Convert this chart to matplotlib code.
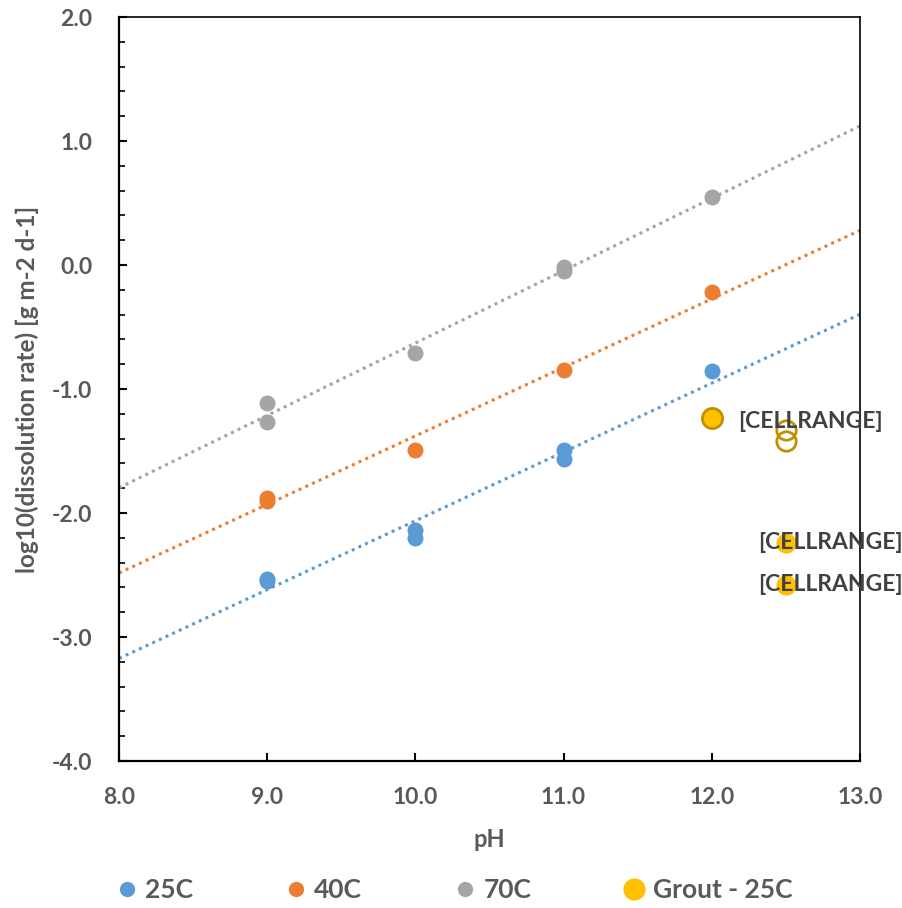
import numpy as np
import matplotlib

matplotlib.use("Agg")
import matplotlib.pyplot as plt
from matplotlib.lines import Line2D
from matplotlib.ticker import MultipleLocator, FormatStrFormatter

plt.rcParams["font.family"] = ["Lato", "DejaVu Sans"]
plt.rcParams["axes.unicode_minus"] = False

# measured dissolution rates, log10 [g m-2 d-1]
ph_25 = [9, 9, 10, 10, 11, 11, 12]
rate_25 = [-2.53, -2.55, -2.14, -2.20, -1.49, -1.565, -0.855]
ph_40 = [9, 9, 10, 11, 12]
rate_40 = [-1.88, -1.90, -1.49, -0.85, -0.22]
ph_70 = [9, 9, 10, 11, 11, 12]
rate_70 = [-1.11, -1.27, -0.71, -0.02, -0.05, 0.55]

# grout samples (25C)
grout_ph = [12.0, 12.5, 12.5]
grout_rate = [-1.23, -2.24, -2.58]
grout_open_ph = [12.5, 12.5]
grout_open_rate = [-1.33, -1.42]
grout_labels = ["[CELLRANGE]", "[CELLRANGE]", "[CELLRANGE]"]

series_names = ["25C", "40C", "70C", "Grout - 25C"]
colors = ["#5B9BD5", "#ED7D31", "#A5A5A5", "#FFC000"]
GREY_TXT = "#595959"

fig = plt.figure(figsize=(9.02, 9.08), dpi=100)
ax = fig.add_axes([119 / 902, 147 / 908, 741 / 902, 744 / 908])

x_fit = np.array([8.0, 13.0])
for xs, ys, c in [(ph_25, rate_25, colors[0]), (ph_40, rate_40, colors[1]),
                  (ph_70, rate_70, colors[2])]:
    slope, icpt = np.polyfit(xs, ys, 1)
    ax.plot(x_fit, slope * x_fit + icpt, color=c, lw=2.2,
            linestyle=(0, (1, 1.4)), zorder=2)
    ax.plot(xs, ys, "o", color=c, ms=11.5, mec="none", zorder=3)

# grout points
ax.plot(grout_ph[:1], grout_rate[:1], "o", color=colors[3], ms=14.5,
        mec="#BF9000", mew=2, zorder=4)
ax.plot(grout_ph[1:], grout_rate[1:], "o", color=colors[3], ms=14.5,
        mec="none", zorder=4)
ax.plot(grout_open_ph, grout_open_rate, "o", mfc="none", ms=14,
        mec="#BF9000", mew=2, zorder=4)

offsets = [(19, -3), (-20, 0), (-20, 0)]
for x, y, lab, off in zip(grout_ph, grout_rate, grout_labels, offsets):
    ax.annotate(lab, (x, y), xytext=off, textcoords="offset points",
                ha="left", va="center", fontsize=16.5, fontweight="bold",
                color="#404040", zorder=5)

ax.set_xlim(8, 13)
ax.set_ylim(-4, 2)
ax.xaxis.set_major_locator(MultipleLocator(1))
ax.yaxis.set_major_locator(MultipleLocator(1))
ax.yaxis.set_minor_locator(MultipleLocator(0.2))
ax.xaxis.set_major_formatter(FormatStrFormatter("%.1f"))
ax.yaxis.set_major_formatter(FormatStrFormatter("%.1f"))
ax.tick_params(axis="both", which="major", direction="in", length=6,
               width=1.5, pad=19, labelsize=16.5, labelcolor=GREY_TXT)
ax.tick_params(axis="y", which="minor", direction="in", length=4, width=1.2)
for lab in ax.get_xticklabels() + ax.get_yticklabels():
    lab.set_fontweight("bold")

for side in ["left", "bottom"]:
    ax.spines[side].set_linewidth(1.6)
for side in ["top", "right"]:
    ax.spines[side].set_linewidth(1.2)

ax.set_xlabel("pH", fontsize=17, fontweight="bold", color=GREY_TXT, labelpad=14)
ax.set_ylabel("log10(dissolution rate) [g m-2 d-1]", fontsize=17.5,
              fontweight="bold", color=GREY_TXT, labelpad=9)

handles = [Line2D([], [], ls="none", marker="o", color=c, mec="none",
                  ms=(16 if i == 3 else 11)) for i, c in enumerate(colors)]
leg = fig.legend(handles, series_names, loc="center", ncol=4,
                 bbox_to_anchor=(0.505, 0.02), frameon=False,
                 prop={"size": 19, "weight": "bold"},
                 handlelength=0.6, handletextpad=0.4, columnspacing=3.6,
                 borderpad=0.1)
for t in leg.get_texts():
    t.set_color(GREY_TXT)

fig.savefig("out.png", dpi=100)
